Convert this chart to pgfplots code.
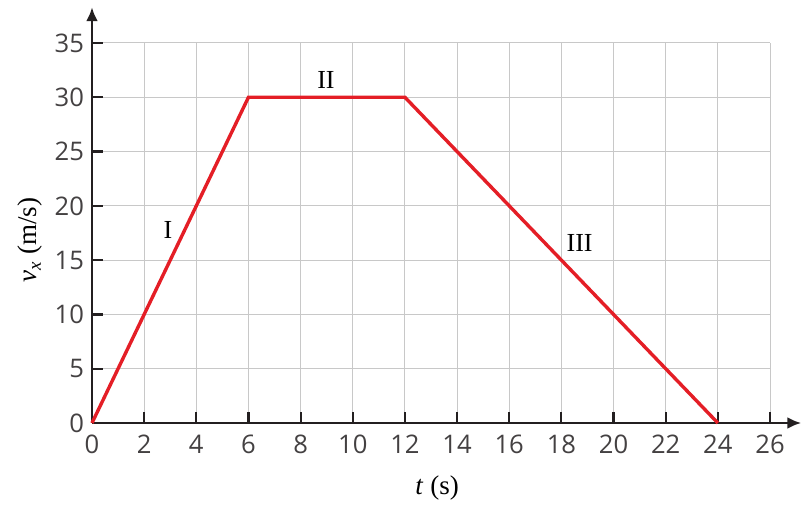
\documentclass[border=0pt]{standalone}
\usepackage{pgfplots}
\pgfplotsset{compat=1.18}
\usetikzlibrary{arrows.meta}
\usepackage{fontspec}
\setmainfont{Liberation Serif}
\newfontfamily\ticksans{Open Sans}
\definecolor{linered}{RGB}{228,30,38}
\definecolor{gridgray}{RGB}{200,200,200}
\definecolor{axisdark}{RGB}{35,31,32}

\begin{document}
\begin{tikzpicture}
\begin{axis}[
  at={(0,0)}, anchor=south west,
  scale only axis, width=339pt, height=190pt,
  xmin=0, xmax=26, ymin=0, ymax=35,
  xtick={0,2,...,26}, ytick={0,5,...,35},
  xtick pos=bottom, ytick pos=left, tick align=inside,
  major tick length=5.5pt,
  tick style={axisdark, line width=1.1pt},
  grid=major, major grid style={gridgray, line width=0.5pt},
  axis line style={draw=none},
  clip=false,
  /pgf/number format/assume math mode=true,
  ticklabel style={font=\ticksans\fontsize{12.8}{13}\selectfont, text=axisdark!85},
  xticklabel style={yshift=-2.6pt},
  yticklabel style={xshift=-0.5pt},
  xlabel={\textit{t} (s)},
  xlabel style={font=\fontsize{13.5}{15}\selectfont, at={(rel axis cs:0.509,-0.171)}, anchor=center},
  ylabel={\textit{v}\textsubscript{\textit{x}} (m/s)},
  ylabel style={font=\fontsize{13.5}{15}\selectfont, at={(rel axis cs:-0.0915,0.481)}, anchor=center},
]
% axes with arrow heads
\draw[axisdark, line width=1.4pt, -{Latex[length=7pt,width=6pt]}] (axis cs:0,0) -- (axis cs:27.2,0);
\draw[axisdark, line width=1.4pt, -{Latex[length=7pt,width=6pt]}] (axis cs:0,0) -- (axis cs:0,38.3);

% velocity-time graph
\addplot[linered, line width=1.7pt, line join=miter] coordinates {
  (0,0) (6,30) (12,30) (24,0)
};

% segment names
\node[font=\fontsize{13}{14}\selectfont] at (axis cs:2.91,17.8) {I};
\node[font=\fontsize{13}{14}\selectfont] at (axis cs:8.97,31.6) {II};
\node[font=\fontsize{13}{14}\selectfont] at (axis cs:18.7,16.6) {III};
\end{axis}
\pgfresetboundingbox
\useasboundingbox (-46pt,-41.5pt) rectangle (354.5pt,211.5pt);
\end{tikzpicture}
\end{document}
